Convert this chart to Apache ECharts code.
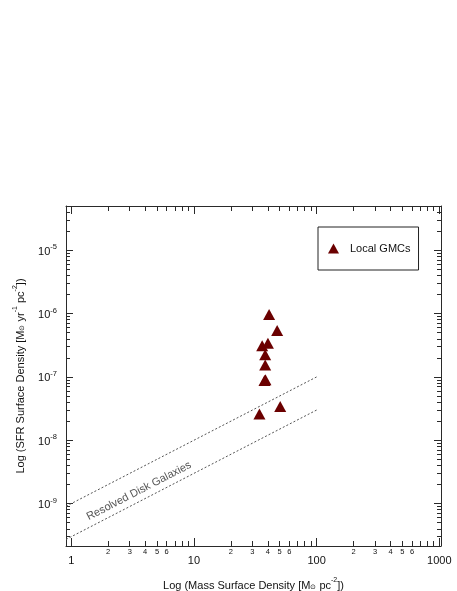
<!DOCTYPE html>
<html>
<head>
<meta charset="utf-8">
<script src="https://cdn.jsdelivr.net/npm/echarts@6/dist/echarts.min.js"></script>
<style>
  html, body { margin: 0; padding: 0; background: #fff; }
  #main { width: 457px; height: 591px; }
</style>
</head>
<body>
<div id="main"></div>
<script>
// Local GMCs (mass surface density, SFR surface density)
const gmcMass = [41.0, 47.7, 40.1, 36.0, 38.1, 38.1, 37.6, 38.3, 50.5, 34.2];
const gmcSfr = [9.7e-7, 5.4e-7, 3.4e-7, 3.1e-7, 2.25e-7, 1.55e-7, 8.8e-8, 9.0e-8, 3.4e-8, 2.6e-8];

// resolved disk galaxies band (end points of the two dotted lines)
const diskX = [0.907, 100];
const diskUpper = [0.907e-9, 1e-7];
const diskLower = [2.72e-10, 3e-8];

// axes
const xMin = 0.907, xMax = 1032;
const yMin = 2.14e-10, yMax = 5e-5;
const xMajor = [1, 10, 100, 1000];
const xMinorDigits = [2, 3, 4, 5, 6, 7, 8, 9];
const xMinorLabelDigits = [2, 3, 4, 5, 6];
const xDecades = [1, 10, 100];
const yMajor = [1e-9, 1e-8, 1e-7, 1e-6, 1e-5];
const yDecades = [1e-10, 1e-9, 1e-8, 1e-7, 1e-6, 1e-5];

const xMinor = [], xMinorLab = [], yMinor = [];
xDecades.forEach(d => {
  xMinorDigits.forEach(k => xMinor.push(k * d));
  xMinorLabelDigits.forEach(k => xMinorLab.push(k * d));
});
yDecades.forEach(d => {
  xMinorDigits.forEach(k => {
    const v = k * d;
    if (v >= yMin && v <= yMax) yMinor.push(v);
  });
});

const FONT = 'Liberation Sans';
const LINE = '#2a2a2a';

function xAxisDef(pos, ticks, len, labels, labelOpt) {
  return {
    type: 'log', logBase: 10, min: xMin, max: xMax, position: pos,
    axisLine: { show: true, onZero: false, lineStyle: { color: LINE, width: 1 } },
    axisTick: { show: true, inside: true, length: len, customValues: ticks, lineStyle: { color: LINE } },
    axisLabel: labels ? Object.assign({ show: true, customValues: labels, fontFamily: FONT, color: '#111' }, labelOpt)
                      : { show: false },
    splitLine: { show: false }
  };
}
function yAxisDef(pos, ticks, len, labels, labelOpt) {
  return {
    type: 'log', logBase: 10, min: yMin, max: yMax, position: pos,
    axisLine: { show: true, onZero: false, lineStyle: { color: LINE, width: 1 } },
    axisTick: { show: true, inside: true, length: len, customValues: ticks, lineStyle: { color: LINE } },
    axisLabel: labels ? Object.assign({ show: true, customValues: labels, fontFamily: FONT, color: '#111' }, labelOpt)
                      : { show: false },
    splitLine: { show: false }
  };
}

const titleRich = {
  t: { fontFamily: FONT, fontSize: 11, color: '#111', lineHeight: 14, verticalAlign: 'bottom' },
  sub: { fontFamily: FONT, fontSize: 7, color: '#111', lineHeight: 8, verticalAlign: 'bottom' },
  sup: { fontFamily: FONT, fontSize: 7, color: '#111', lineHeight: 8, verticalAlign: 'top' }
};

const xAxes = [
  Object.assign(xAxisDef('bottom', xMajor, 8, xMajor, { fontSize: 11, margin: 9, formatter: v => String(Math.round(v)) }), {
    name: '{t|Log (Mass Surface Density [M}{sub|⊙}{t| pc}{sup|-2}{t|])}',
    nameLocation: 'middle', nameGap: 31,
    nameTextStyle: { rich: titleRich }
  }),
  xAxisDef('bottom', xMinor, 5, xMinorLab, { fontSize: 7.5, margin: 2, formatter: v => String(Math.round(v / Math.pow(10, Math.floor(Math.log10(v) + 1e-9)))) }),
  xAxisDef('top', xMajor, 8, null),
  xAxisDef('top', xMinor, 5, null)
];
xAxes[1].axisLine.show = false;
xAxes[3].axisLine.show = false;

const yAxes = [
  Object.assign(yAxisDef('left', yMajor, 7, yMajor, {
    margin: 9,
    formatter: v => '{b|10}{s|' + Math.round(Math.log10(v)) + '}',
    rich: {
      b: { fontFamily: FONT, fontSize: 11, color: '#111', lineHeight: 14, padding: [4, 0, 0, 0], verticalAlign: 'bottom' },
      s: { fontFamily: FONT, fontSize: 7.5, color: '#111', lineHeight: 9, verticalAlign: 'top' }
    }
  }), {
    name: '{t|Log (SFR Surface Density [M}{sub|⊙}{t| yr}{sup|-1}{t| pc}{sup|-2}{t|])}',
    nameLocation: 'middle', nameGap: 40, nameRotate: 90,
    nameTextStyle: { rich: titleRich }
  }),
  yAxisDef('left', yMinor, 4, null),
  yAxisDef('right', yMajor, 7, null),
  yAxisDef('right', yMinor, 4, null)
];
yAxes[1].axisLine.show = false;
yAxes[3].axisLine.show = false;

const chart = echarts.init(document.getElementById('main'), null, { renderer: 'canvas' });
chart.setOption({
  backgroundColor: '#fff',
  animation: false,
  grid: { left: 66, right: 16, top: 206, bottom: 45, containLabel: false, outerBoundsMode: 'none' },
  xAxis: xAxes,
  yAxis: yAxes,
  legend: {
    data: ['Local GMCs'],
    left: 318, top: 227,
    orient: 'vertical',
    padding: [16, 8, 16, 10],
    borderColor: '#222', borderWidth: 1, borderRadius: 0,
    backgroundColor: '#fff',
    itemWidth: 11, itemHeight: 10,
    textStyle: { fontFamily: FONT, fontSize: 11, color: '#111', padding: [0, 0, 0, 6] }
  },
  graphic: [{
    type: 'text',
    x: 139, y: 491,
    rotation: 27.3 * Math.PI / 180,
    style: {
      text: 'Resolved Disk Galaxies',
      font: '11px "Liberation Sans"',
      fill: '#555',
      align: 'center',
      verticalAlign: 'middle'
    }
  }],
  series: [
    {
      name: 'Disk upper', type: 'line', xAxisIndex: 0, yAxisIndex: 0,
      symbol: 'none', silent: true,
      lineStyle: { color: '#555', width: 1, type: [2, 2] },
      data: diskX.map((x, i) => [x, diskUpper[i]])
    },
    {
      name: 'Disk lower', type: 'line', xAxisIndex: 0, yAxisIndex: 0,
      symbol: 'none', silent: true,
      lineStyle: { color: '#555', width: 1, type: [2, 2] },
      data: diskX.map((x, i) => [x, diskLower[i]])
    },
    {
      name: 'Local GMCs', type: 'scatter', xAxisIndex: 0, yAxisIndex: 0,
      symbol: 'triangle', symbolSize: [12, 11],
      itemStyle: { color: '#6b0000', opacity: 1 },
      data: gmcMass.map((x, i) => [x, gmcSfr[i]])
    }
  ]
});
</script>
</body>
</html>
